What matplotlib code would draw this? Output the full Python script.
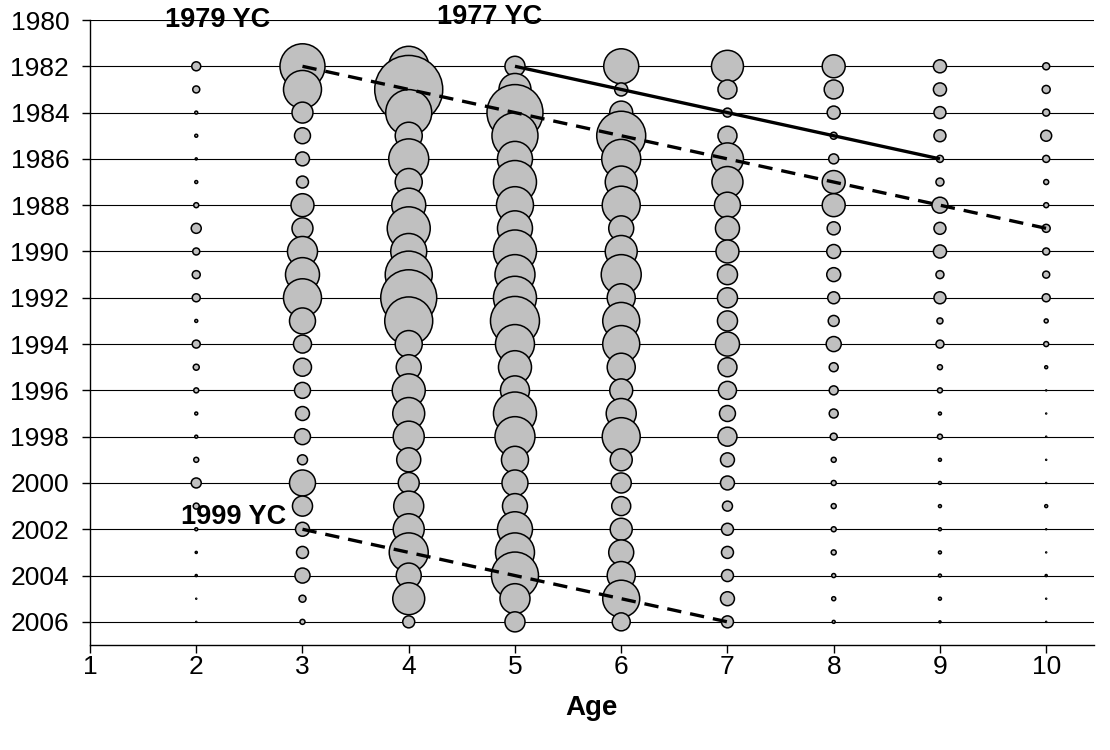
import numpy as np
import matplotlib
matplotlib.use('Agg')
from matplotlib import pyplot as plt

plt.rcParams['font.family'] = ['Liberation Sans', 'DejaVu Sans']

ages = [2, 3, 4, 5, 6, 7, 8, 9, 10]
years = list(range(1982, 2007))

# relative catch-at-age index (bubble area), one list per age, years 1982-2006
age2 = [1.75, 1.06, 0.19, 0.19, 0.09, 0.19, 0.54, 2.16, 1.06, 1.38, 1.38, 0.19, 1.38,
        0.78, 0.54, 0.19, 0.19, 0.54, 2.16, 0.78, 0.19, 0.09, 0.09, 0.02, 0.02]
age3 = [43.8, 31.2, 9.5, 5.5, 4.2, 3.1, 11.4, 9.5, 19.5, 25.0, 31.2, 14.6, 7.0,
        7.0, 5.5, 4.2, 5.5, 2.16, 14.6, 8.7, 4.2, 3.1, 4.9, 1.06, 0.54]
age4 = [34.6, 100, 45.8, 15.8, 34.6, 15.8, 25.0, 40.0, 28.0, 47.8, 67.8, 49.8, 15.8,
        13.5, 23.6, 22.1, 20.8, 12.5, 9.5, 19.5, 20.8, 32.9, 13.5, 22.1, 3.1]
age5 = [8.7, 22.1, 67.8, 45.8, 26.5, 40.0, 29.6, 26.5, 40.0, 34.6, 40.0, 51.9, 32.9,
        23.6, 18.2, 40.0, 34.6, 15.8, 14.6, 13.5, 26.5, 32.9, 47.8, 19.5, 8.7]
age6 = [26.5, 3.7, 11.4, 51.9, 32.9, 22.1, 31.2, 13.5, 22.1, 34.6, 17.0, 29.6, 29.6,
        17.0, 11.4, 19.5, 31.2, 10.5, 8.7, 7.8, 10.5, 13.5, 17.0, 29.6, 7.0]
age7 = [22.1, 7.8, 1.75, 7.8, 22.1, 20.8, 14.6, 12.5, 11.4, 8.7, 8.7, 8.7, 12.5,
        7.8, 7.0, 5.5, 7.8, 4.2, 4.2, 2.16, 3.1, 3.1, 3.1, 4.2, 3.1]
age8 = [11.4, 7.8, 3.7, 1.06, 2.16, 11.4, 11.4, 3.7, 4.2, 4.2, 3.1, 2.6, 4.9,
        1.75, 1.75, 1.75, 1.06, 0.54, 0.54, 0.54, 0.54, 0.54, 0.35, 0.35, 0.19]
age9 = [3.7, 3.7, 3.1, 3.1, 1.06, 1.38, 5.5, 3.1, 3.7, 1.38, 3.1, 0.78, 1.38,
        0.54, 0.54, 0.19, 0.54, 0.19, 0.19, 0.19, 0.19, 0.19, 0.19, 0.19, 0.09]
age10 = [1.06, 1.38, 1.06, 2.6, 1.06, 0.54, 0.54, 1.38, 1.06, 1.06, 1.38, 0.35, 0.54,
         0.19, 0.02, 0.02, 0.02, 0.02, 0.02, 0.19, 0.02, 0.02, 0.09, 0.02, 0.02]

# year-class tracks: (ages, years)
yc1977 = ([5, 9], [1982, 1986])
yc1979 = ([3, 10], [1982, 1989])
yc1999 = ([3, 7], [2002, 2006])

index = np.array([age2, age3, age4, age5, age6, age7, age8, age9, age10])
xx, yy = np.meshgrid(ages, years, indexing='ij')

# largest bubble ~68 px across; area proportional to the index
dmax = 68 * 0.72
sizes = (dmax * np.sqrt(index / 100.0)) ** 2

fig = plt.figure(figsize=(11.1, 7.5), dpi=100)
ax = fig.add_axes([90/1110, 105/750, 1004/1110, 625/750])

ax.scatter(xx.ravel(), yy.ravel(), s=sizes.ravel(), c='#c0c0c0',
           edgecolors='black', linewidths=1.1, zorder=3)

ax.plot(*yc1977, color='black', lw=2.4, zorder=4, solid_capstyle='butt')
ax.plot(*yc1979, color='black', lw=2.4, zorder=4, dashes=(4.3, 2.7))
ax.plot(*yc1999, color='black', lw=2.4, zorder=4, dashes=(4.3, 2.7))

ax.text(2.2, 1980.0, '1979 YC', fontsize=19.5, fontweight='bold', ha='center', va='center')
ax.text(4.765, 1979.85, '1977 YC', fontsize=19.5, fontweight='bold', ha='center', va='center')
ax.text(2.355, 2001.45, '1999 YC', fontsize=19.5, fontweight='bold', ha='center', va='center')

ax.set_xlim(1, 10.45)
ax.set_ylim(2007, 1980)
ax.set_xticks(range(1, 11))
ax.set_yticks(range(1980, 2007, 2))
ax.yaxis.grid(True, color='black', lw=0.8)
ax.set_axisbelow(True)

ax.spines['top'].set_visible(False)
ax.spines['right'].set_visible(False)
ax.spines['left'].set_linewidth(1.0)
ax.spines['bottom'].set_linewidth(1.0)
ax.tick_params(axis='both', direction='out', length=6, width=1.0, labelsize=19)
ax.tick_params(axis='y', pad=9)
ax.tick_params(axis='x', pad=1)

ax.set_xlabel('Age', fontsize=20, fontweight='bold', labelpad=12)

plt.savefig('out.png', dpi=100)
